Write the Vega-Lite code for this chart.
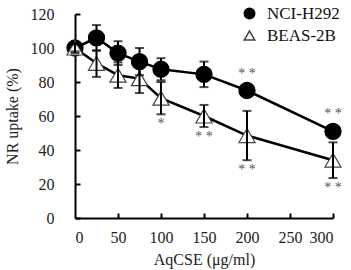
{
  "$schema": "https://vega.github.io/schema/vega-lite/v6.json",
  "width": 258,
  "height": 204,
  "autosize": {"type": "none"},
  "padding": {"left": 75, "top": 14, "right": 18, "bottom": 52},
  "background": "white",
  "config": {
    "view": {"stroke": null},
    "axis": {
      "grid": false,
      "domainColor": "black",
      "domainWidth": 2,
      "tickColor": "black",
      "tickWidth": 2,
      "labelFont": "Liberation Serif",
      "labelFontSize": 16,
      "labelColor": "#222",
      "titleFont": "Liberation Serif",
      "titleFontSize": 16,
      "titleFontWeight": "normal",
      "titleColor": "#222"
    },
    "legend": {
      "orient": "none",
      "legendX": 166,
      "legendY": -9,
      "padding": 0,
      "rowPadding": 4,
      "labelFont": "Liberation Serif",
      "labelFontSize": 17,
      "labelColor": "#111",
      "labelOffset": 9,
      "symbolSize": 110,
      "symbolStrokeWidth": 1.5,
      "symbolOpacity": 1
    }
  },
  "data": {
    "values": [
      {"series": "NCI-H292", "dose": 0, "mean": 100, "lo": 97, "hi": 103, "sig": ""},
      {"series": "NCI-H292", "dose": 25, "mean": 106, "lo": 98.5, "hi": 113.5, "sig": ""},
      {"series": "NCI-H292", "dose": 50, "mean": 97, "lo": 90, "hi": 104, "sig": ""},
      {"series": "NCI-H292", "dose": 75, "mean": 92, "lo": 84, "hi": 100, "sig": ""},
      {"series": "NCI-H292", "dose": 100, "mean": 87.5, "lo": 81, "hi": 94, "sig": ""},
      {"series": "NCI-H292", "dose": 150, "mean": 84.5, "lo": 77, "hi": 92, "sig": ""},
      {"series": "NCI-H292", "dose": 200, "mean": 75, "lo": 72.5, "hi": 77.5, "sig": "* *"},
      {"series": "NCI-H292", "dose": 300, "mean": 51, "lo": 48, "hi": 54, "sig": "* *"},
      {"series": "BEAS-2B", "dose": 0, "mean": 100, "lo": 98, "hi": 102, "sig": ""},
      {"series": "BEAS-2B", "dose": 25, "mean": 91, "lo": 83, "hi": 98.5, "sig": ""},
      {"series": "BEAS-2B", "dose": 50, "mean": 84, "lo": 76.5, "hi": 91.5, "sig": ""},
      {"series": "BEAS-2B", "dose": 75, "mean": 82, "lo": 73.5, "hi": 90.5, "sig": ""},
      {"series": "BEAS-2B", "dose": 100, "mean": 70.5, "lo": 61, "hi": 80, "sig": "*"},
      {"series": "BEAS-2B", "dose": 150, "mean": 60, "lo": 53.5, "hi": 66.5, "sig": "* *"},
      {"series": "BEAS-2B", "dose": 200, "mean": 48.5, "lo": 34, "hi": 63, "sig": "* *"},
      {"series": "BEAS-2B", "dose": 300, "mean": 34, "lo": 23.5, "hi": 44.5, "sig": "* *"}
    ]
  },
  "resolve": {"axis": {"x": "independent", "y": "independent"}},
  "layer": [
    {
      "encoding": {
        "x": {
          "field": "dose",
          "type": "quantitative",
          "scale": {"domain": [0, 300], "nice": false},
          "axis": {"orient": "bottom", "values": [0, 50, 100, 150, 200, 250, 300], "ticks": false, "labelOverlap": false, "title": "AqCSE (μg/ml)", "labelPadding": 11, "titlePadding": 6}
        }
      },
      "layer": [
        {
          "mark": {"type": "line", "color": "black", "strokeWidth": 2.5},
          "encoding": {
            "y": {"field": "mean", "type": "quantitative", "title": "NR uptake (%)", "scale": {"domain": [0, 120], "nice": false},
                  "axis": {"orient": "left", "tickCount": 6, "ticks": false, "labelOverlap": false, "labelPadding": 21, "titlePadding": 10}},
            "detail": {"field": "series"}
          }
        },
        {
          "mark": {"type": "point", "filled": true, "strokeWidth": 1.2, "opacity": 1},
          "encoding": {
            "y": {"field": "mean", "type": "quantitative", "title": "NR uptake (%)"},
            "fill": {
              "field": "series",
              "type": "nominal",
              "scale": {"domain": ["NCI-H292", "BEAS-2B"], "range": ["black", "white"]},
              "legend": {"title": null}
            },
            "stroke": {
              "field": "series",
              "type": "nominal",
              "scale": {"domain": ["NCI-H292", "BEAS-2B"], "range": ["black", "#444"]},
              "legend": {"title": null}
            },
            "shape": {
              "field": "series",
              "type": "nominal",
              "scale": {"domain": ["NCI-H292", "BEAS-2B"], "range": ["circle", "triangle-up"]},
              "legend": {"title": null}
            },
            "size": {"value": 260}
          }
        },
        {
          "mark": {"type": "errorbar", "ticks": {"size": 9, "thickness": 2, "color": "black"}, "rule": {"strokeWidth": 2, "color": "black"}},
          "encoding": {
            "y": {"field": "lo", "type": "quantitative", "title": "NR uptake (%)"},
            "y2": {"field": "hi"}
          }
        },
        {
          "transform": [{"filter": "datum.series == 'NCI-H292' && datum.sig != ''"}],
          "mark": {"type": "text", "font": "Liberation Serif", "fontSize": 14, "fill": "#555", "baseline": "middle", "dy": -12},
          "encoding": {
            "y": {"field": "hi", "type": "quantitative", "title": "NR uptake (%)"},
            "text": {"field": "sig"}
          }
        },
        {
          "transform": [{"filter": "datum.series == 'BEAS-2B' && datum.sig != ''"}],
          "mark": {"type": "text", "font": "Liberation Serif", "fontSize": 14, "fill": "#555", "baseline": "middle", "dy": 10},
          "encoding": {
            "y": {"field": "lo", "type": "quantitative", "title": "NR uptake (%)"},
            "text": {"field": "sig"}
          }
        }
      ]
    },
    {
      "mark": {"type": "point", "opacity": 0},
      "encoding": {
        "x": {"field": "dose", "type": "quantitative",
              "axis": {"orient": "bottom", "values": [50, 100, 150, 200, 250, 300], "domain": false, "labels": false, "title": null, "ticks": true, "tickSize": 5, "offset": -5}},
        "y": {"field": "mean", "type": "quantitative",
              "axis": {"orient": "left", "tickCount": 6, "domain": false, "labels": false, "title": null, "ticks": true, "tickSize": 5, "offset": -5}}
      }
    }
  ]
}
